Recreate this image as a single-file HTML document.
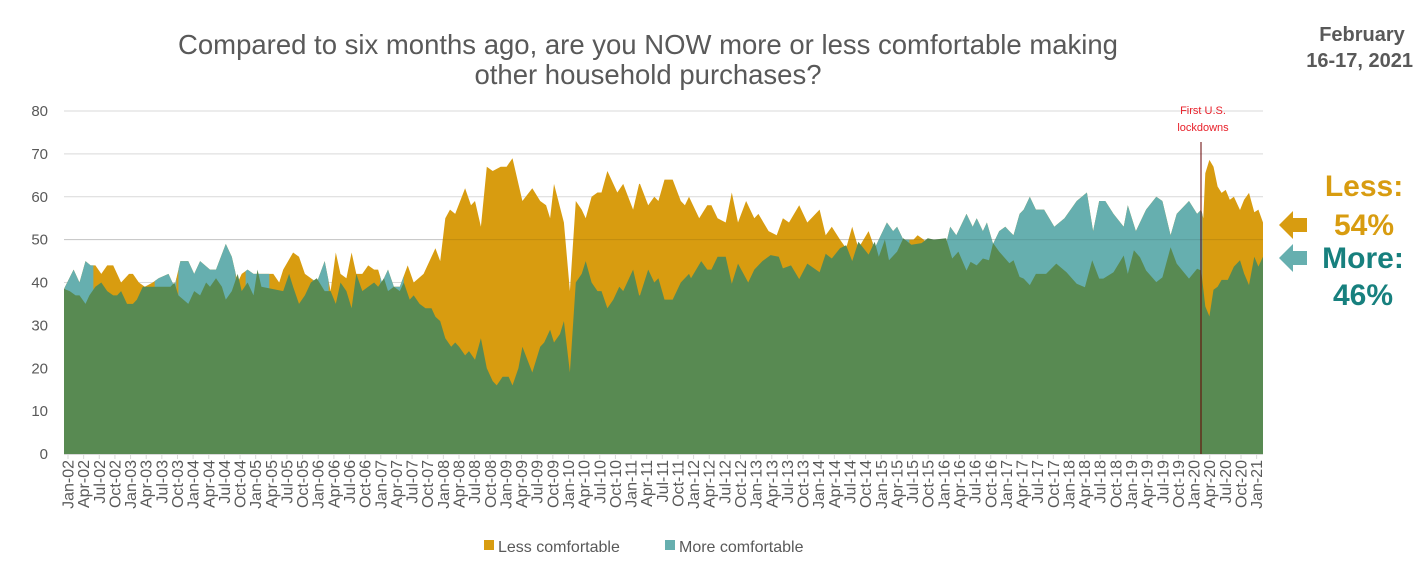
<!DOCTYPE html>
<html><head><meta charset="utf-8"><style>
body{margin:0;background:#fff;width:1423px;height:559px;overflow:hidden;font-family:"Liberation Sans",Arial,sans-serif}
</style></head><body>
<svg id="s" width="1423" height="559" xmlns="http://www.w3.org/2000/svg" font-family="Liberation Sans, Arial, sans-serif"></svg>
<script>
const NS="http://www.w3.org/2000/svg",S=document.getElementById('s');
function el(t,a,txt){const e=document.createElementNS(NS,t);for(const k in a)e.setAttribute(k,a[k]);if(txt!=null)e.textContent=txt;S.appendChild(e);return e;}
const Y=v=>454-v*4.2875;
const X1=z=>40+z/2.529, X2=z=>640+z/2.45;
const top1=[[62,38.5],[85,43],[100,40],[115,45],[128,44],[140,44],[155,42],[170,44],[185,44],[205,40],[225,42],[235,42],[250,40],[265,39],[285,40],[300,41],[325,42],[340,39],[355,45],[375,45],[390,42],[405,45],[430,43],[445,43],[470,49],[485,46],[500,40],[510,42],[525,43],[540,42],[575,42],[590,42],[605,40],[615,43],[640,47],[655,46],[670,42],[700,40],[720,45],[735,38],[748,47],[760,42],[775,41],[788,47],[800,42],[815,42],[830,44],[845,43],[855,43],[865,40],[880,43],[895,39],[910,39],[930,44],[945,40],[970,42],[990,46],[1000,48],[1012,45],[1025,55],[1037,57],[1050,56],[1075,62],[1090,58],[1100,59],[1115,53],[1130,67],[1145,66],[1165,67],[1180,67],[1195,69],[1220,59],[1245,62],[1265,59],[1280,58],[1290,55],[1300,63],[1325,54],[1340,38],[1355,59],[1370,57],[1380,55],[1395,60],[1410,61],[1420,61],[1435,66],[1445,64],[1460,61],[1475,63],[1500,57],[1515,63],[1525,63],[1540,59],[1555,61]];
const bot1=[[62,38.5],[75,38],[90,37],[100,37],[115,35],[125,37],[140,39],[155,40],[170,38],[185,37],[195,37],[205,38],[220,35],[235,35],[245,36],[260,39],[330,39],[340,40],[350,37],[375,35],[390,38],[405,37],[420,40],[430,39],[445,41],[460,39],[470,36],[485,38],[500,42],[510,38],[525,40],[540,37],[550,43],[560,39],[615,38],[630,42],[640,39],[655,35],[670,37],[685,40],[700,41],[720,38],[735,38],[748,35],[760,40],[775,38],[788,34],[800,42],[815,38],[830,39],[845,40],[855,39],[870,41],[880,38],[895,39],[910,38],[920,40],[935,36],[945,37],[960,35],[975,34],[990,34],[1000,32],[1012,31],[1025,27],[1040,25],[1050,26],[1060,25],[1075,23],[1085,24],[1100,22],[1115,27],[1130,20],[1145,17],[1155,16],[1170,18],[1185,18],[1195,16],[1210,20],[1220,25],[1245,19],[1265,25],[1275,26],[1290,29],[1300,26],[1315,28],[1325,31],[1340,19],[1355,40],[1370,42],[1380,45],[1395,40],[1410,38],[1420,38],[1435,34],[1450,36],[1465,39],[1475,38],[1500,43],[1515,37],[1525,37],[1540,41],[1555,40]];
const top2=[[0,63],[20,58],[35,60],[45,59],[60,64],[80,64],[100,59],[110,58],[120,60],[145,55],[165,58],[175,58],[190,55],[210,54],[225,61],[240,54],[260,59],[280,55],[290,56],[315,52],[335,51],[350,55],[365,54],[390,58],[410,54],[440,57],[455,51],[470,53],[490,50],[505,48],[520,53],[535,48],[560,52],[575,48],[590,51],[605,54],[620,52],[630,53],[645,50],[670,50],[680,51],[695,50],[705,49],[715,50],[730,50],[750,49],[760,53],[775,51],[800,56],[815,53],[825,55],[840,52],[850,54],[865,49],[880,52],[895,53],[905,52],[915,51],[930,56],[940,57],[955,60],[970,57],[990,57],[1015,53],[1040,55],[1070,59],[1095,61],[1110,52],[1125,59],[1140,59],[1160,56],[1185,53],[1195,58],[1215,52],[1240,57],[1265,60],[1280,59],[1300,51],[1315,56],[1345,59],[1365,56],[1375,57],[1380,55],[1385,65.5],[1395,68.6],[1405,67],[1415,62.4],[1425,60.9],[1435,61.6],[1445,59.3],[1455,60],[1470,56.9],[1480,59.3],[1492,60.9],[1505,56.4],[1515,57],[1525,54]];
const bot2=[[0,37],[20,43],[35,40],[45,41],[60,36],[80,36],[100,40],[120,42],[125,41],[150,45],[165,43],[175,43],[190,46],[210,46],[225,39.7],[240,44.4],[265,40],[280,43],[300,45],[320,46.4],[340,46],[350,43.3],[370,44],[390,40.8],[410,44.4],[440,42.4],[455,46.7],[470,45.6],[490,48],[505,48.7],[520,45],[535,49.5],[560,46.5],[575,49.5],[585,46],[600,50],[610,45.2],[630,47.2],[645,50.3],[665,48.8],[690,49.2],[705,50.3],[720,50],[750,50.3],[765,45.6],[780,47.2],[800,42.8],[810,44.8],[825,44],[840,45.6],[855,45.2],[865,49.2],[880,47.2],[905,44.5],[915,45.2],[930,41.3],[940,40.9],[955,39.4],[970,42],[995,42],[1020,44.4],[1045,42.4],[1070,39.7],[1090,38.9],[1108,45.2],[1125,40.9],[1135,40.9],[1160,42.4],[1185,46.3],[1195,42],[1210,47.5],[1225,45.9],[1240,42.8],[1265,40.1],[1280,41.2],[1300,48.2],[1315,44.4],[1345,40.9],[1365,43.2],[1375,42.8],[1385,34.4],[1395,32.1],[1405,38.3],[1415,39],[1425,40.6],[1440,40.6],[1455,43.7],[1470,45.2],[1480,42.1],[1492,39.4],[1505,46],[1515,43.7],[1525,46]];
function pts(a1,a2){const r=[];a1.forEach(p=>{const x=X1(p[0]);if(x<640)r.push([x,p[1]]);});a2.forEach(p=>r.push([X2(p[0]),p[1]]));r[0][0]=64;r[r.length-1][0]=1263;return r;}
const T=pts(top1,top2),B=pts(bot1,bot2);
function poly(a){return "64,454 "+a.map(p=>p[0].toFixed(1)+","+Y(p[1]).toFixed(1)).join(" ")+" 1263,454";}
for(let v=0;v<=80;v+=10){if(v>0)el('line',{x1:64,x2:1263,y1:Y(v),y2:Y(v),stroke:'#d9d9d9','stroke-width':1});el('text',{x:48,y:Y(v)+5,'text-anchor':'end','font-size':15,fill:'#595959'},v);}
const d=el('defs',{});const cp=document.createElementNS(NS,'clipPath');cp.setAttribute('id','tc');d.appendChild(cp);
[[X1(62),X1(135)],[X1(290),X1(345)],[X1(350),X1(495)],[X1(520),X1(580)],[X1(690),X1(730)],[X1(860),X1(920)],[X2(570),X2(660)],[X2(705),X2(1378)]].forEach(r=>{const e=document.createElementNS(NS,'rect');e.setAttribute('x',r[0]);e.setAttribute('y',0);e.setAttribute('width',r[1]-r[0]);e.setAttribute('height',559);cp.appendChild(e);});
el('polygon',{points:poly(T),fill:'#D89C10'});
el('polygon',{points:poly(T),fill:'#66AFAF','clip-path':'url(#tc)'});
el('polygon',{points:poly(B),fill:'#588A52'});
el('line',{x1:64,x2:1263,y1:Y(50),y2:Y(50),stroke:'#000','stroke-opacity':0.1});
el('line',{x1:64,x2:1263,y1:454.5,y2:454.5,stroke:'#d9d9d9'});
const m=['Jan','Apr','Jul','Oct'];
for(let i=0;i<77;i++){const x=68+i*15.64;const yy=String(2+Math.floor(i/4)).padStart(2,'0');
el('line',{x1:x,x2:x,y1:454,y2:459,stroke:'#d9d9d9'});
el('text',{transform:`translate(${x+5.5},460) rotate(-90)`,'text-anchor':'end','font-size':16,fill:'#595959'},m[i%4]+'-'+yy);}
el('line',{x1:1201,x2:1201,y1:142,y2:454,stroke:'#600','stroke-width':1});
el('text',{x:1203,y:114,'text-anchor':'middle','font-size':11,fill:'#e8202a'},'First U.S.');
el('text',{x:1203,y:131,'text-anchor':'middle','font-size':11,fill:'#e8202a'},'lockdowns');
el('text',{x:648,y:54,'text-anchor':'middle','font-size':27.5,fill:'#595959'},'Compared to six months ago, are you NOW more or less comfortable making');
el('text',{x:648,y:84,'text-anchor':'middle','font-size':27.5,fill:'#595959'},'other household purchases?');
el('text',{x:1362,y:41,'text-anchor':'middle','font-size':20,'font-weight':'bold',fill:'#595959'},'February');
el('text',{x:1413,y:67,'text-anchor':'end','font-size':20,'font-weight':'bold',fill:'#595959'},'16-17, 2021');
el('text',{x:1364,y:196,'text-anchor':'middle','font-size':30,'font-weight':'bold',fill:'#D89C10'},'Less:');
el('text',{x:1364,y:235,'text-anchor':'middle','font-size':30,'font-weight':'bold',fill:'#D89C10'},'54%');
el('text',{x:1363,y:268,'text-anchor':'middle','font-size':30,'font-weight':'bold',fill:'#17807E'},'More:');
el('text',{x:1363,y:305,'text-anchor':'middle','font-size':30,'font-weight':'bold',fill:'#17807E'},'46%');
el('polygon',{points:'1279,225 1293,211 1293,218 1307,218 1307,232 1293,232 1293,239',fill:'#D89C10'});
el('polygon',{points:'1279,258 1293,244 1293,251 1307,251 1307,265 1293,265 1293,272',fill:'#66AFAF'});
el('rect',{x:484,y:540,width:10,height:10,fill:'#D89C10'});
el('text',{x:498,y:552,'font-size':16,fill:'#595959'},'Less comfortable');
el('rect',{x:665,y:540,width:10,height:10,fill:'#66AFAF'});
el('text',{x:679,y:552,'font-size':16,fill:'#595959'},'More comfortable');
</script>
</body></html>
